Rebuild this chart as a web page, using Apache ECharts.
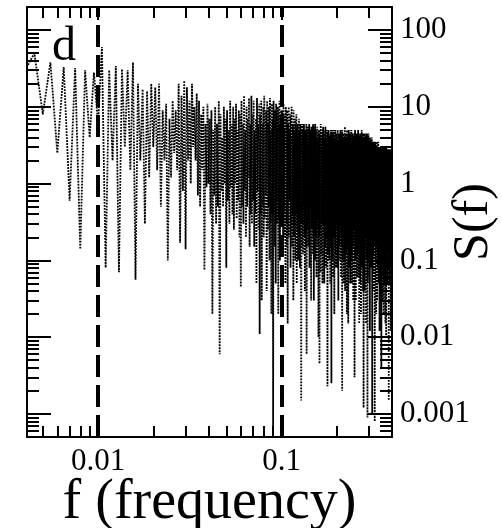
<!DOCTYPE html>
<html>
<head>
<meta charset="utf-8">
<script src="https://cdn.jsdelivr.net/npm/echarts@6/dist/echarts.min.js"></script>
<style>
html,body{margin:0;padding:0;background:#fff;}
#chart{width:502px;height:528px;}
</style>
</head>
<body>
<div id="chart"></div>
<script>
// ---- data ----
const freqLow = [0.004,0.0045,0.005,0.0055,0.006,0.0065,0.007,0.0075,0.008,0.0085,0.009,0.0095,
  0.01,0.0105,0.011,0.0115,0.012,0.0125,0.013,0.0135,0.014,0.0145,0.015,0.0155,0.016,0.0165,
  0.017,0.0175,0.018,0.0185,0.019,0.0195];
const powerLow = [30,50,8,38,2.5,33,0.6,32,0.14,30,4,28,
  6,60,0.08,30,2,34,0.07,31,3,30,1.5,38,0.056,20,
  2,17,0.3,16,1.2,20];

const freqMid = [
  0.02,0.0205,0.021,0.0215,0.022,0.0225,0.023,0.0235,0.024,0.0245,0.025,0.0255,0.026,0.0265,0.027,0.0275,0.028,0.0285,0.029,0.0295,
  0.03,0.0305,0.031,0.0315,0.032,0.0325,0.033,0.0335,0.034,0.0345,0.035,0.0355,0.036,0.0365,0.037,0.0375,0.038,0.0385,0.039,0.0395,
  0.04,0.0405,0.041,0.0415,0.042,0.0425,0.043,0.0435,0.044,0.0445,0.045,0.0455,0.046,0.0465,0.047,0.0475,0.048,0.0485,0.049,0.0495,
  0.05,0.0505,0.051,0.0515,0.052,0.0525,0.053,0.0535,0.054,0.0545,0.055,0.0555,0.056,0.0565,0.057,0.0575,0.058,0.0585,0.059,0.0595,
  0.06,0.0605,0.061,0.0615,0.062,0.0625,0.063,0.0635,0.064,0.0645,0.065,0.0655,0.066,0.0665,0.067,0.0675,0.068,0.0685,0.069,0.0695,
  0.07,0.0705,0.071,0.0715,0.072,0.0725,0.073,0.0735,0.074,0.0745,0.075,0.0755,0.076,0.0765,0.077,0.0775,0.078,0.0785,0.079,0.0795,
  0.08,0.0805,0.081,0.0815,0.082,0.0825,0.083,0.0835,0.084,0.0845,0.085,0.0855,0.086,0.0865,0.087,0.0875,0.088,0.0885,0.089,0.0895,
  0.09,0.0905,0.091,0.0915,0.092,0.0925,0.093,0.0935,0.094,0.0945,0.095,0.0955,0.096,0.0965,0.097,0.0975,0.098,0.0985,0.099,0.0995];
const powerMid = [
  3,18,1.5,20,0.5,9,2,11,0.1,7,1.2,12,2.5,9,1.5,20,0.17,14,0.8,22,
  0.14,18,2,12,1,20,3,10,2,15,0.7,12,0.5,8,1.5,10,0.075,6,0.9,11,
  1,7,0.4,9,0.02,5,0.7,10,0.3,6,0.5,12,0.006,8,0.8,4,0.5,10,1,7,
  0.08,9,0.6,5,0.3,12,0.9,6,0.4,10,0.25,7,1,11,0.35,5,0.6,9,0.2,8,
  0.045,12,0.5,6,0.3,14,0.8,5,0.2,10,0.5,7,1.2,13,0.15,6,0.4,14,0.3,8,
  0.6,12,0.15,5,0.4,7,0.05,13,0.8,6,0.25,11,0.011,8,0.4,12,0.03,6,0.5,10,
  0.2,14,0.35,5,0.7,9,0.04,12,0.25,6,0.5,10,0.1,13,0.3,5,0.02,11,0.4,7,
  0.0006,12,0.4,6,0.15,9,0.05,11,0.6,5,0.3,10,0.02,8,0.35,12,0.1,6,0.5,9];

const freqHigh = [
  0.1,0.1005,0.101,0.1015,0.102,0.1025,0.103,0.1035,0.104,0.1045,0.105,0.1055,0.106,0.1065,0.107,0.1075,0.108,0.1085,0.109,0.1095,
  0.11,0.1105,0.111,0.1115,0.112,0.1125,0.113,0.1135,0.114,0.1145,0.115,0.1155,0.116,0.1165,0.117,0.1175,0.118,0.1185,0.119,0.1195,
  0.12,0.1205,0.121,0.1215,0.122,0.1225,0.123,0.1235,0.124,0.1245,0.125,0.1255,0.126,0.1265,0.127,0.1275,0.128,0.1285,0.129,0.1295,
  0.13,0.1305,0.131,0.1315,0.132,0.1325,0.133,0.1335,0.134,0.1345,0.135,0.1355,0.136,0.1365,0.137,0.1375,0.138,0.1385,0.139,0.1395,
  0.14,0.1405,0.141,0.1415,0.142,0.1425,0.143,0.1435,0.144,0.1445,0.145,0.1455,0.146,0.1465,0.147,0.1475,0.148,0.1485,0.149,0.1495,
  0.15,0.1505,0.151,0.1515,0.152,0.1525,0.153,0.1535,0.154,0.1545,0.155,0.1555,0.156,0.1565,0.157,0.1575,0.158,0.1585,0.159,0.1595,
  0.16,0.1605,0.161,0.1615,0.162,0.1625,0.163,0.1635,0.164,0.1645,0.165,0.1655,0.166,0.1665,0.167,0.1675,0.168,0.1685,0.169,0.1695,
  0.17,0.1705,0.171,0.1715,0.172,0.1725,0.173,0.1735,0.174,0.1745,0.175,0.1755,0.176,0.1765,0.177,0.1775,0.178,0.1785,0.179,0.1795,
  0.18,0.1805,0.181,0.1815,0.182,0.1825,0.183,0.1835,0.184,0.1845,0.185,0.1855,0.186,0.1865,0.187,0.1875,0.188,0.1885,0.189,0.1895,
  0.19,0.1905,0.191,0.1915,0.192,0.1925,0.193,0.1935,0.194,0.1945,0.195,0.1955,0.196,0.1965,0.197,0.1975,0.198,0.1985,0.199,0.1995,
  0.2,0.2005,0.201,0.2015,0.202,0.2025,0.203,0.2035,0.204,0.2045,0.205,0.2055,0.206,0.2065,0.207,0.2075,0.208,0.2085,0.209,0.2095,
  0.21,0.2105,0.211,0.2115,0.212,0.2125,0.213,0.2135,0.214,0.2145,0.215,0.2155,0.216,0.2165,0.217,0.2175,0.218,0.2185,0.219,0.2195,
  0.22,0.2205,0.221,0.2215,0.222,0.2225,0.223,0.2235,0.224,0.2245,0.225,0.2255,0.226,0.2265,0.227,0.2275,0.228,0.2285,0.229,0.2295,
  0.23,0.2305,0.231,0.2315,0.232,0.2325,0.233,0.2335,0.234,0.2345,0.235,0.2355,0.236,0.2365,0.237,0.2375,0.238,0.2385,0.239,0.2395,
  0.24,0.2405,0.241,0.2415,0.242,0.2425,0.243,0.2435,0.244,0.2445,0.245,0.2455,0.246,0.2465,0.247,0.2475,0.248,0.2485,0.249,0.2495,
  0.25,0.2505,0.251,0.2515,0.252,0.2525,0.253,0.2535,0.254,0.2545,0.255,0.2555,0.256,0.2565,0.257,0.2575,0.258,0.2585,0.259,0.2595,
  0.26,0.2605,0.261,0.2615,0.262,0.2625,0.263,0.2635,0.264,0.2645,0.265,0.2655,0.266,0.2665,0.267,0.2675,0.268,0.2685,0.269,0.2695,
  0.27,0.2705,0.271,0.2715,0.272,0.2725,0.273,0.2735,0.274,0.2745,0.275,0.2755,0.276,0.2765,0.277,0.2775,0.278,0.2785,0.279,0.2795,
  0.28,0.2805,0.281,0.2815,0.282,0.2825,0.283,0.2835,0.284,0.2845,0.285,0.2855,0.286,0.2865,0.287,0.2875,0.288,0.2885,0.289,0.2895,
  0.29,0.2905,0.291,0.2915,0.292,0.2925,0.293,0.2935,0.294,0.2945,0.295,0.2955,0.296,0.2965,0.297,0.2975,0.298,0.2985,0.299,0.2995,
  0.3,0.3005,0.301,0.3015,0.302,0.3025,0.303,0.3035,0.304,0.3045,0.305,0.3055,0.306,0.3065,0.307,0.3075,0.308,0.3085,0.309,0.3095,
  0.31,0.3105,0.311,0.3115,0.312,0.3125,0.313,0.3135,0.314,0.3145,0.315,0.3155,0.316,0.3165,0.317,0.3175,0.318,0.3185,0.319,0.3195,
  0.32,0.3205,0.321,0.3215,0.322,0.3225,0.323,0.3235,0.324,0.3245,0.325,0.3255,0.326,0.3265,0.327,0.3275,0.328,0.3285,0.329,0.3295,
  0.33,0.3305,0.331,0.3315,0.332,0.3325,0.333,0.3335,0.334,0.3345,0.335,0.3355,0.336,0.3365,0.337,0.3375,0.338,0.3385,0.339,0.3395,
  0.34,0.3405,0.341,0.3415,0.342,0.3425,0.343,0.3435,0.344,0.3445,0.345,0.3455,0.346,0.3465,0.347,0.3475,0.348,0.3485,0.349,0.3495,
  0.35,0.3505,0.351,0.3515,0.352,0.3525,0.353,0.3535,0.354,0.3545,0.355,0.3555,0.356,0.3565,0.357,0.3575,0.358,0.3585,0.359,0.3595,
  0.36,0.3605,0.361,0.3615,0.362,0.3625,0.363,0.3635,0.364,0.3645,0.365,0.3655,0.366,0.3665,0.367,0.3675,0.368,0.3685,0.369,0.3695,
  0.37,0.3705,0.371,0.3715,0.372,0.3725,0.373,0.3735,0.374,0.3745,0.375,0.3755,0.376,0.3765,0.377,0.3775,0.378,0.3785,0.379,0.3795,
  0.38,0.3805,0.381,0.3815,0.382,0.3825,0.383,0.3835,0.384,0.3845,0.385,0.3855,0.386,0.3865,0.387,0.3875,0.388,0.3885,0.389,0.3895,
  0.39,0.3905,0.391,0.3915,0.392,0.3925,0.393,0.3935,0.394,0.3945,0.395,0.3955,0.396,0.3965,0.397,0.3975,0.398,0.3985,0.399,0.3995,
  0.4];
const powerHigh = [
  0.5,9,0.3,6,0.12,11,0.4,5,0.2,8,0.05,10,0.3,7,0.15,9,0.015,6,0.25,10,
  0.2,5,0.6,8,0.08,7,0.3,10,0.15,4,0.4,6,0.03,9,0.2,5,0.5,7,0.1,6,
  0.4,8,0.05,5,0.25,6,0.1,4,0.35,7,0.2,5,0.08,6,0.3,4,0.0015,5,0.15,6,
  0.3,5,0.12,4,0.5,6,0.2,3.5,0.04,5,0.3,4.5,0.15,6,0.006,5,0.25,4,0.4,5.5,
  0.15,4,0.35,6,0.08,3.5,0.2,5,0.5,4,0.03,5.5,0.25,3,0.12,4.5,0.4,6,0.2,3.5,
  0.03,5.5,0.3,4,0.1,6,0.45,3,0.2,5,0.06,4,0.35,5.5,0.15,3.5,0.25,4.5,0.01,5,
  0.2,4.5,0.0045,5,0.25,3.5,0.07,6,0.4,4,0.12,5,0.3,3,0.05,4.5,0.2,5.5,0.35,4,
  0.3,5,0.05,3,0.6,4.5,0.15,5.5,0.25,4,0.08,3.5,0.4,5,0.2,4,0.0023,4.5,0.12,5,
  0.2,5,0.4,3.5,0.1,4,0.3,4.5,0.05,3.5,0.25,5,0.15,4,0.0025,4.5,0.35,3,0.1,5,
  0.5,3.5,0.06,4.5,0.3,3,0.2,5,0.02,4,0.4,3.5,0.12,5,0.25,4,0.08,4.5,0.3,3.5,
  0.12,4,0.4,3.5,0.08,5,0.25,3,0.03,4.5,0.3,4,0.15,3.5,0.5,4.5,0.1,3,0.2,5,
  0.3,3.5,0.06,4,0.4,3,0.15,4.5,0.002,5,0.2,3.5,0.1,4,0.35,3,0.05,4.5,0.25,4,
  0.1,3.5,0.3,5.5,0.04,4,0.2,3,0.45,4.5,0.12,3.5,0.25,4,0.02,5,0.35,3,0.15,4.5,
  0.35,3,0.015,4,0.2,5,0.08,3.5,0.4,4,0.12,3,0.3,4.5,0.05,3.5,0.25,4,0.1,5,
  0.1,5,0.3,3,0.05,4.5,0.2,3.5,0.5,4,0.15,3,0.03,4.5,0.3,3.5,0.08,4,0.25,3,
  0.003,3.5,0.25,5,0.1,3,0.4,4.5,0.03,4,0.2,3,0.12,4.5,0.35,3.5,0.06,4,0.25,3,
  0.2,3.5,0.12,5,0.35,3,0.06,4,0.3,3.5,0.015,4.5,0.2,3,0.1,4,0.4,3.5,0.05,4.5,
  0.15,4.5,0.02,3,0.4,4,0.1,5,0.25,3,0.08,4,0.3,3.5,0.15,4.5,0.04,3,0.2,4,
  0.0012,4,0.3,3.5,0.08,4.5,0.2,3,0.04,4,0.35,3.5,0.1,4.5,0.25,3,0.015,4,0.2,3.5,
  0.35,3,0.1,4.5,0.25,3.5,0.05,4,0.0009,3.5,0.25,4,0.15,3,0.06,4.5,0.3,3.5,0.1,3,
  0.3,3.5,0.05,4,0.2,2.8,0.012,3.5,0.4,3,0.1,4,0.25,3,0.08,3.5,0.3,2.8,0.15,3.5,
  0.1,4,0.3,3,0.001,3.5,0.25,3,0.07,2.8,0.3,3.5,0.12,3,0.04,3.5,0.2,2.8,0.35,3,
  0.15,3,0.25,3.5,0.0008,2.5,0.2,3,0.05,3.5,0.35,2.8,0.1,3,0.25,2.5,0.02,3.5,0.15,2.8,
  0.1,3.5,0.25,2.5,0.03,3,0.15,2.8,0.4,3,0.08,2.5,0.2,3.5,0.12,2.8,0.3,3,0.05,2.5,
  0.06,2.5,0.2,3,0.012,2.8,0.3,2.5,0.1,3,0.25,2.8,0.04,3,0.15,2.5,0.35,3,0.08,2.8,
  0.004,2.5,0.2,3,0.08,2.8,0.35,2.5,0.15,3,0.03,2.5,0.25,2.8,0.1,3,0.4,2.5,0.06,2.8,
  0.02,2.5,0.25,3,0.1,2.2,0.4,2.8,0.05,2.5,0.2,3,0.12,2.5,0.3,2.2,0.015,2.8,0.2,2.5,
  0.3,2.8,0.12,2.5,0.01,3,0.2,2.2,0.35,2.8,0.08,2.5,0.25,2.2,0.05,2.8,0.15,2.5,0.3,2.2,
  0.08,2.5,0.25,2.2,0.12,2.8,0.3,2.5,0.0015,2.8,0.15,2.5,0.3,2.2,0.05,2.5,0.2,2.8,0.1,2.2,
  0.05,2.8,0.2,2.5,0.1,2.2,0.4,2.5,0.012,2.8,0.25,2.5,0.08,2.2,0.3,2.8,0.15,2.5,0.03,2.2,
  0.2];

const markerFreqs = [0.01, 0.1];
const xMajorTicks = [0.01, 0.1];
const xTickLabels = ['0.01', '0.1'];
const xMinorTicks = [0.005,0.006,0.007,0.008,0.009,0.02,0.03,0.04,0.05,0.06,0.07,0.08,0.09,0.2,0.3,0.4];
const yMajorTicks = [0.001, 0.01, 0.1, 1, 10, 100];
const yTickLabels = ['0.001', '0.01', '0.1', '1', '10', '100'];
const yMinorTicks = [0.0005,0.0006,0.0007,0.0008,0.0009,
  0.002,0.003,0.004,0.005,0.006,0.007,0.008,0.009,
  0.02,0.03,0.04,0.05,0.06,0.07,0.08,0.09,
  0.2,0.3,0.4,0.5,0.6,0.7,0.8,0.9,
  2,3,4,5,6,7,8,9,
  20,30,40,50,60,70,80,90,200];
const panelLabel = 'd';
const xTitle = 'f (frequency)';
const yTitle = 'S(f)';

// ---- build chart ----
const freq = freqLow.concat(freqMid, freqHigh);
const power = powerLow.concat(powerMid, powerHigh);
const seriesData = freq.map((f, i) => [f, power[i]]);

const X_MIN = 0.0041, X_MAX = 0.4, Y_MIN = 0.0005, Y_MAX = 200;
const FONT = '"Liberation Serif", "Times New Roman", serif';

function lookup(vals, labels, v) {
  for (let i = 0; i < vals.length; i++) {
    if (Math.abs(Math.log10(vals[i]) - Math.log10(v)) < 1e-6) return labels[i];
  }
  return '';
}

function makeAxis(dim, position, ticks, tickLen, showLine, showLabel, extra) {
  const isX = dim === 'x';
  const ax = {
    type: 'log',
    logBase: 10,
    position: position,
    min: isX ? X_MIN : Y_MIN,
    max: isX ? X_MAX : Y_MAX,
    axisLine: { show: showLine, onZero: false, lineStyle: { color: '#000', width: 2 } },
    axisTick: { show: true, inside: true, length: tickLen, customValues: ticks,
      lineStyle: { color: '#000', width: 2 } },
    minorTick: { show: false },
    splitLine: { show: false },
    axisLabel: { show: false }
  };
  if (showLabel) {
    const vals = isX ? xMajorTicks : yMajorTicks;
    const labs = isX ? xTickLabels : yTickLabels;
    ax.axisLabel = {
      show: true,
      customValues: vals,
      margin: isX ? 9 : 8,
      color: '#000',
      fontFamily: FONT,
      fontSize: 31,
      formatter: v => lookup(vals, labs, v)
    };
  }
  return Object.assign(ax, extra || {});
}

const chart = echarts.init(document.getElementById('chart'), null, { renderer: 'canvas' });
chart.setOption({
  animation: false,
  backgroundColor: '#fff',
  title: {
    text: panelLabel,
    left: 47, top: 18,
    textStyle: { fontFamily: FONT, fontSize: 48, fontWeight: 'normal', color: '#000' }
  },
  grid: { left: 27, right: 110, top: 7, bottom: 91, containLabel: false, outerBoundsMode: 'none' },
  xAxis: [
    makeAxis('x', 'bottom', xMajorTicks, 13, true, true, {
      name: xTitle, nameLocation: 'middle', nameGap: 38, nameMoveOverlap: false,
      nameTextStyle: { fontFamily: FONT, fontSize: 56, color: '#000' }
    }),
    makeAxis('x', 'bottom', xMinorTicks, 11, false, false),
    makeAxis('x', 'top', xMajorTicks, 13, true, false),
    makeAxis('x', 'top', xMinorTicks, 11, false, false)
  ],
  yAxis: [
    makeAxis('y', 'right', yMajorTicks, 24, true, true, {
      name: yTitle, nameLocation: 'middle', nameRotate: 90, nameGap: 57, nameMoveOverlap: false,
      nameTextStyle: { fontFamily: FONT, fontSize: 50, color: '#000' }
    }),
    makeAxis('y', 'right', yMinorTicks, 12, false, false),
    makeAxis('y', 'left', yMajorTicks, 24, true, false),
    makeAxis('y', 'left', yMinorTicks, 12, false, false)
  ],
  series: [{
    type: 'line',
    xAxisIndex: 0,
    yAxisIndex: 0,
    data: seriesData,
    showSymbol: false,
    symbol: 'none',
    clip: true,
    lineStyle: { color: '#000', width: 1.8, type: [1.8, 1.2] },
    markLine: {
      silent: true,
      symbol: ['none', 'none'],
      label: { show: false },
      lineStyle: { color: '#000', width: 4, type: [22, 8] },
      data: markerFreqs.map(f => ({ xAxis: f }))
    },
    z: 2
  }]
});
</script>
</body>
</html>
